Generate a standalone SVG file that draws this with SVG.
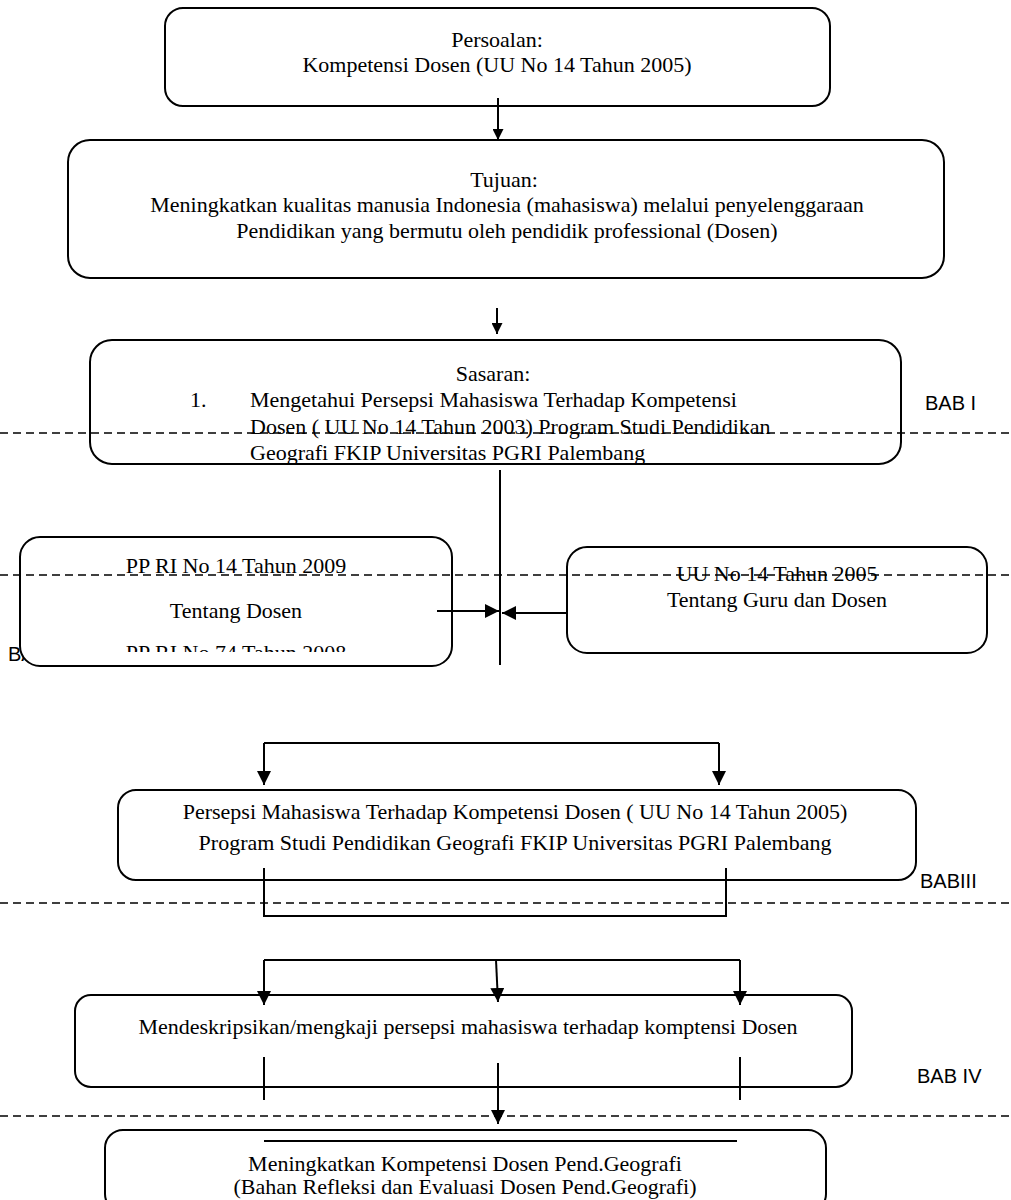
<svg xmlns="http://www.w3.org/2000/svg" width="1011" height="1200" viewBox="0 0 1011 1200">
<defs>
<style>
.box{fill:#fff;stroke:#000;stroke-width:2}
.t{font-family:"Liberation Serif","Times New Roman",serif;font-size:22px;fill:#000}
.c{text-anchor:middle}
.bab{font-family:"Liberation Sans",Arial,sans-serif;font-size:20px;fill:#000}
.ln{stroke:#000;stroke-width:2;fill:none}
.dash{stroke:#000;stroke-width:1.5;stroke-dasharray:8 5;fill:none}
</style>
<marker id="ah" viewBox="0 0 10 10" refX="10" refY="5" markerWidth="11" markerHeight="11" markerUnits="userSpaceOnUse" orient="auto">
<path d="M0,0 L10,5 L0,10 z" fill="#000"/>
</marker>
<marker id="ahL" viewBox="0 0 12 12" refX="12" refY="6" markerWidth="14" markerHeight="14" markerUnits="userSpaceOnUse" orient="auto">
<path d="M0,0 L12,6 L0,12 z" fill="#000"/>
</marker>
<clipPath id="clipL"><rect x="22" y="539" width="428" height="113"/></clipPath>
</defs>

<g id="bab-labels">
<text class="bab" x="8" y="661">BAB II</text>
</g>

<g id="node-persoalan">
<rect class="box" x="165" y="8" width="665" height="98" rx="18"/>
<text class="t c" x="497" y="47">Persoalan:</text>
<text class="t c" x="497" y="72">Kompetensi Dosen (UU No 14 Tahun 2005)</text>
</g>

<g id="node-tujuan">
<rect class="box" x="68" y="140" width="876" height="138" rx="22"/>
<text class="t c" x="504" y="187">Tujuan:</text>
<text class="t c" x="507" y="212">Meningkatkan kualitas manusia Indonesia (mahasiswa) melalui penyelenggaraan</text>
<text class="t c" x="507" y="238">Pendidikan yang bermutu oleh pendidik professional (Dosen)</text>
</g>

<g id="node-sasaran">
<rect class="box" x="90" y="340" width="811" height="124" rx="22"/>
<text class="t c" x="493" y="381">Sasaran:</text>
<text class="t" x="190" y="407">1.</text>
<text class="t" x="250" y="407">Mengetahui Persepsi Mahasiswa Terhadap Kompetensi</text>
<text class="t" x="250" y="434">Dosen ( UU No 14 Tahun 2003) Program Studi Pendidikan</text>
<text class="t" x="250" y="460">Geografi FKIP Universitas PGRI Palembang</text>
</g>

<g id="node-pp">
<rect class="box" x="20" y="537" width="432" height="129" rx="20"/>
<g clip-path="url(#clipL)">
<text class="t c" x="236" y="573">PP RI No 14 Tahun 2009</text>
<text class="t c" x="236" y="618">Tentang  Dosen</text>
<text class="t c" x="236" y="660">PP RI No 74 Tahun 2008</text>
</g>
</g>

<g id="node-uu">
<rect class="box" x="567" y="547" width="420" height="106" rx="20"/>
<text class="t c" x="777" y="581">UU No 14 Tahun 2005</text>
<text class="t c" x="777" y="607">Tentang Guru dan Dosen</text>
</g>

<g id="node-persepsi">
<rect class="box" x="118" y="790" width="798" height="90" rx="18"/>
<text class="t c" x="515" y="819">Persepsi Mahasiswa Terhadap Kompetensi Dosen ( UU No 14 Tahun 2005)</text>
<text class="t c" x="515" y="850">Program Studi Pendidikan Geografi FKIP Universitas PGRI Palembang</text>
</g>

<g id="node-mendeskripsikan">
<rect class="box" x="75" y="995" width="777" height="92" rx="16"/>
<text class="t c" x="468" y="1034">Mendeskripsikan/mengkaji persepsi mahasiswa terhadap komptensi Dosen</text>
</g>

<g id="node-meningkatkan">
<rect class="box" x="105" y="1130" width="721" height="82" rx="18"/>
<text class="t c" x="465" y="1171">Meningkatkan Kompetensi Dosen Pend.Geografi</text>
<text class="t c" x="465" y="1194">(Bahan Refleksi dan Evaluasi Dosen Pend.Geografi)</text>
</g>

<g id="section-dividers">
<line class="dash" x1="0" y1="433" x2="1011" y2="433"/>
<line class="dash" x1="0" y1="575" x2="1011" y2="575"/>
<line class="dash" x1="0" y1="903" x2="1011" y2="903"/>
<line class="dash" x1="0" y1="1116" x2="1011" y2="1116"/>
<text class="bab" x="925" y="410">BAB I</text>
<text class="bab" x="920" y="888">BABIII</text>
<text class="bab" x="917" y="1083">BAB IV</text>
</g>

<g id="connectors">
<line class="ln" x1="498" y1="98" x2="498" y2="140" marker-end="url(#ah)"/>
<line class="ln" x1="497" y1="308" x2="497" y2="334" marker-end="url(#ah)"/>
<line class="ln" x1="500" y1="470" x2="500" y2="665"/>
<line class="ln" x1="437" y1="611" x2="499" y2="611" marker-end="url(#ahL)"/>
<line class="ln" x1="567" y1="613" x2="502" y2="613" marker-end="url(#ahL)"/>
<polyline class="ln" points="264,743 719,743"/>
<line class="ln" x1="264" y1="743" x2="264" y2="785" marker-end="url(#ahL)"/>
<line class="ln" x1="719" y1="743" x2="719" y2="785" marker-end="url(#ahL)"/>
<path class="ln" d="M264,868 L264,916 L726,916 L726,868"/>
<polyline class="ln" points="264,960 740,960"/>
<line class="ln" x1="264" y1="960" x2="264" y2="1005" marker-end="url(#ahL)"/>
<line class="ln" x1="740" y1="960" x2="740" y2="1005" marker-end="url(#ahL)"/>
<line class="ln" x1="496" y1="960" x2="498" y2="1002" marker-end="url(#ahL)"/>
<line class="ln" x1="264" y1="1057" x2="264" y2="1100"/>
<line class="ln" x1="740" y1="1057" x2="740" y2="1100"/>
<line class="ln" x1="498" y1="1063" x2="498" y2="1124" marker-end="url(#ahL)"/>
<line class="ln" x1="264" y1="1141" x2="737" y2="1141"/>
</g>
</svg>
